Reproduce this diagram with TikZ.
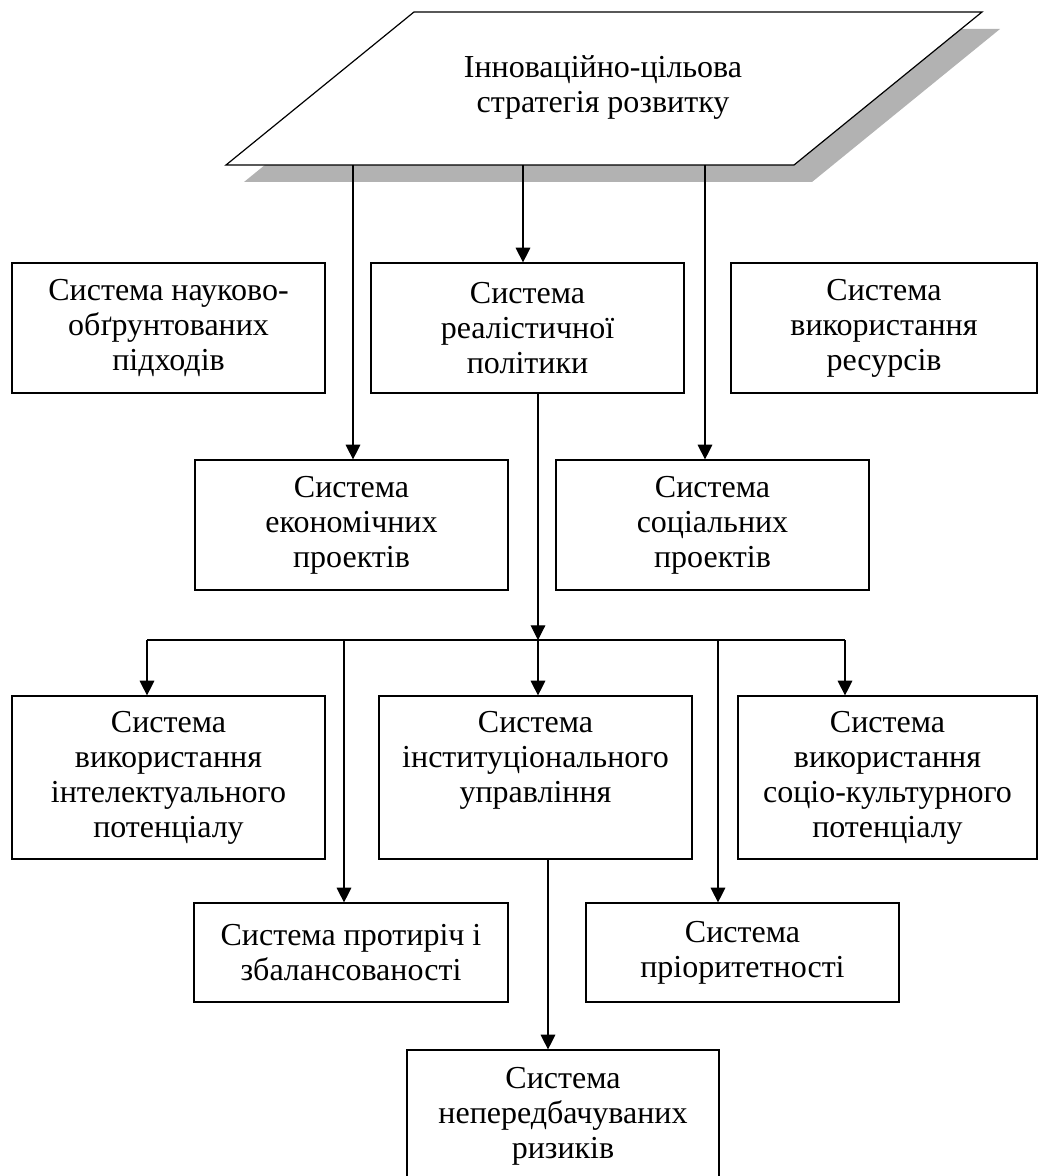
\documentclass[tikz,border=0pt]{standalone}
\usepackage{fontspec}
\setmainfont{Liberation Serif}
\usetikzlibrary{arrows.meta}

\newdimen\px
\px=0.75pt
\newcommand{\sysfont}{\fontsize{24}{26.25}\selectfont}

\tikzset{
    sys/.style={draw,line width=0.9pt,inner sep=0pt,align=center,font=\sysfont,minimum width=313\px},
    tall/.style={minimum height=130\px},
    taller/.style={minimum height=163\px},
    low/.style={minimum height=99\px},
}

\begin{document}
\begin{tikzpicture}[x=0.75pt,y=-0.75pt]
\useasboundingbox (0,0) rectangle (1038,1176);

% strategy
\fill[gray!60] (432,29) -- (1000,29) -- (812,182) -- (244,182) -- cycle;
\draw[line width=0.9pt,fill=white] (414,12) -- (982,12) -- (794,165) -- (226,165) -- cycle;
\node[font=\sysfont,align=center] (strat) at (603,88) {Інноваційно-цільова\\стратегія розвитку};

\coordinate (p1) at (353,165);
\coordinate (p2) at (523,165);
\coordinate (p3) at (705,165);

\begin{scope}[every node/.style={sys}]
    \node[tall] (nauk) at (168.5,328) {Система науково-\\обґрунтованих\\підходів};
    \node[tall] (real) at (527.5,328) {Система\\реалістичної\\політики};
    \node[tall,minimum width=306\px] (resu) at (884,328) {Система\\використання\\ресурсів};
    \node[tall] (ekon) at (351.5,525) {Система\\економічних\\проектів};
    \node[tall] (soc) at (712.5,525) {Система\\соціальних\\проектів};
    \node[taller] (intel) at (168.5,777.5) {Система\\використання\\інтелектуального\\потенціалу};
    \node[taller,text depth=42\px] (inst) at (535.5,777.5) {Система\\інституціонального\\управління};
    \node[taller,minimum width=299\px] (kult) at (887.5,777.5) {Система\\використання\\соціо-культурного\\потенціалу};
    \node[low,minimum width=314\px] (prot) at (351,952.5) {Система протиріч і\\збалансованості};
    \node[low] (prior) at (742.5,952.5) {Система\\пріоритетності};
    \node[minimum width=312\px,minimum height=132\px] (ryz) at (563,1116) {Система\\непередбачуваних\\ризиків};
\end{scope}

\coordinate (bus) at (538,640);
\coordinate (busL) at (147,640);
\coordinate (busR) at (845,640);
\coordinate (d2) at (344,640);
\coordinate (d4) at (718,640);
\coordinate (gk) at (548,1000);

\begin{scope}[every edge/.style={draw=black,line width=0.8pt},
              >={Triangle[length=11pt,width=11pt]}]
    \path [->] (p1) edge (p1 |- ekon.north);
    \path [->] (p2) edge (p2 |- real.north);
    \path [->] (p3) edge (p3 |- soc.north);
    \path [->] (bus |- real.south) edge (bus);
    \path [-] (busL) edge (busR);
    \path [->] (busL) edge (busL |- intel.north);
    \path [->] (d2) edge (d2 |- prot.north);
    \path [->] (bus) edge (bus |- inst.north);
    \path [->] (d4) edge (d4 |- prior.north);
    \path [->] (busR) edge (busR |- kult.north);
    \path [->] (gk |- inst.south) edge (gk |- ryz.north);
\end{scope}
\end{tikzpicture}
\end{document}
